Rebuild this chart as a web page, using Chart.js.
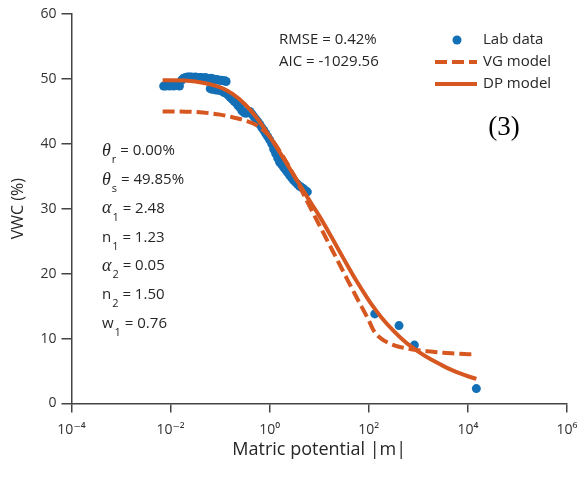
<!DOCTYPE html>
<html>
<head>
<meta charset="utf-8">
<script src="https://cdn.jsdelivr.net/npm/chart.js@4.4.1/dist/chart.umd.min.js"></script>
<style>
  html, body { margin: 0; padding: 0; background: #ffffff; }
  #wrap { width: 587px; height: 477px; }
</style>
</head>
<body>
<div id="wrap"><canvas id="c" width="587" height="477"></canvas></div>
<script>
// Laboratory retention data: matric potential |m| (m) and volumetric water content (%)
const labPotential = [
  0.00724, 0.00794, 0.00871, 0.00955, 0.0105, 0.0115, 0.0126, 0.0138, 0.0151,
  0.0166, 0.0182, 0.0200, 0.0219, 0.0240, 0.0263, 0.0288, 0.0316, 0.0347, 0.0380, 0.0417, 0.0457,
  0.0501, 0.0550, 0.0603, 0.0661, 0.0724, 0.0794, 0.0871, 0.0955, 0.105, 0.115, 0.126, 0.132,
  0.0631, 0.0692, 0.0759, 0.0832, 0.0912, 0.100, 0.110, 0.120, 0.132, 0.145, 0.158, 0.174,
  0.191, 0.209, 0.229, 0.251,
  0.275, 0.302, 0.331, 0.363,
  0.398, 0.437, 0.479, 0.525, 0.575, 0.631, 0.692, 0.759, 0.832, 0.912, 1.00, 1.10, 1.20,
  1.32, 1.45, 1.58, 1.74, 1.91, 2.09, 2.29, 2.51, 2.75, 3.02, 3.31, 3.63, 3.98, 4.37, 4.79,
  5.25, 5.75,
  132, 407, 832, 14800
];
const labVWC = [
  48.9, 48.9, 49.0, 48.9, 49.0, 48.9, 49.0, 49.0, 48.9,
  49.8, 50.1, 50.2, 50.3, 50.3, 50.3, 50.2, 50.3, 50.2, 50.2, 50.2, 50.1,
  50.2, 50.1, 50.0, 50.1, 50.0, 49.9, 49.9, 49.8, 49.8, 49.7, 49.7, 49.6,
  48.5, 48.4, 48.4, 48.3, 48.3, 48.2, 48.1, 47.9, 47.8, 47.5, 47.2, 46.9,
  46.6, 46.3, 45.9, 45.6,
  45.1, 44.8, 44.7, 44.9,
  45.0, 44.6, 44.2, 43.8, 43.4, 43.0, 42.5, 42.1, 41.6, 41.1, 40.6, 40.0, 39.2,
  38.5, 37.8, 37.2, 36.8, 36.4, 36.0, 35.6, 35.2, 34.8, 34.4, 34.1, 33.8, 33.5, 33.3, 33.1,
  32.8, 32.6,
  13.8, 12.0, 9.0, 2.3
];

// Fitted retention curves, sampled on a common potential grid
const modelPotential = [
  0.0069, 0.01, 0.0316, 0.1, 0.178, 0.316, 0.562, 1, 1.78, 3.16, 5.62, 10, 17.8,
  31.6, 56.2, 100, 126, 178, 316, 562, 1000, 1778, 3162, 5623, 10000, 14800
];
const vgVWC = [
  45.0, 45.0, 44.9, 44.5, 44.1, 43.6, 42.8, 41.1, 38.3, 35.0, 31.2, 27.5, 23.8,
  20.1, 16.4, 12.8, 11.2, 10.0, 9.0, 8.5, 8.2, 8.0, 7.8, 7.7, 7.6, 7.6
];
const dpVWC = [
  49.8, 49.8, 49.6, 48.7, 47.7, 46.1, 43.9, 41.1, 38.1, 35.0, 31.9, 28.9, 25.6,
  22.2, 18.9, 15.9, 14.8, 13.3, 11.2, 9.4, 8.0, 6.8, 5.8, 4.9, 4.2, 3.8
];

// Axis ticks
const xTickValues = [1e-4, 1e-2, 1e0, 1e2, 1e4, 1e6];
const xTickLabels = ['10\u207B\u2074', '10\u207B\u00B2', '10\u2070', '10\u00B2', '10\u2074', '10\u2076'];

// Text blocks
const seriesNames = ['Lab data', 'VG model', 'DP model'];
const fitStats = ['RMSE = 0.42%', 'AIC = -1029.56'];
const paramSymbols = ['\u03B8', '\u03B8', '\u03B1', 'n', '\u03B1', 'n', 'w'];
const paramSubs = ['r', 's', '1', '1', '2', '2', '1'];
const paramValues = ['0.00%', '49.85%', '2.48', '1.23', '0.05', '1.50', '0.76'];
const panelLabel = '(3)';

const BLUE = '#1470b6';
const ORANGE = '#d65720';
const AXIS = '#444444';
const TEXT = '#262626';
const SANS = '"Open Sans", "DejaVu Sans", sans-serif';

const toPoints = (xs, ys) => xs.map((x, i) => ({ x: x, y: ys[i] }));

const annotate = {
  id: 'annotate',
  afterDraw(chart) {
    const ctx = chart.ctx;
    ctx.save();
    ctx.textBaseline = 'middle';
    ctx.textAlign = 'left';
    ctx.fillStyle = TEXT;

    // goodness-of-fit statistics
    ctx.font = '15px ' + SANS;
    fitStats.forEach((t, i) => ctx.fillText(t, 279, 40 + i * 22));

    // fitted parameters with subscripts
    paramSymbols.forEach((s, i) => {
      const y = 151 + i * 28.8;
      let x = 102;
      const greek = s === '\u03B8' || s === '\u03B1';
      ctx.font = greek ? 'italic 18px "Liberation Serif", serif' : '15px ' + SANS;
      ctx.fillText(s, x, y);
      x += ctx.measureText(s).width + 1;
      ctx.font = '11px ' + SANS;
      ctx.fillText(paramSubs[i], x, y + 9);
      x += ctx.measureText(paramSubs[i]).width;
      ctx.font = '15px ' + SANS;
      ctx.fillText(' = ' + paramValues[i], x, y);
    });

    // legend
    const ds = chart.data.datasets;
    const lx0 = 435, lx1 = 477, tx = 483;
    const rows = [40, 62, 84];
    ctx.font = '15px ' + SANS;
    ctx.fillStyle = ds[0].backgroundColor;
    ctx.beginPath();
    ctx.arc(457, rows[0], 4.5, 0, Math.PI * 2);
    ctx.fill();
    ctx.strokeStyle = ds[1].borderColor;
    ctx.lineWidth = ds[1].borderWidth;
    ctx.setLineDash(ds[1].borderDash);
    ctx.beginPath();
    ctx.moveTo(lx0, rows[1]); ctx.lineTo(lx1, rows[1]);
    ctx.stroke();
    ctx.setLineDash([]);
    ctx.strokeStyle = ds[2].borderColor;
    ctx.lineWidth = ds[2].borderWidth;
    ctx.beginPath();
    ctx.moveTo(lx0, rows[2]); ctx.lineTo(lx1, rows[2]);
    ctx.stroke();
    ctx.fillStyle = TEXT;
    seriesNames.forEach((n, i) => ctx.fillText(n, tx, rows[i]));

    // panel label
    ctx.fillStyle = '#000000';
    ctx.textAlign = 'center';
    ctx.font = '27px "Liberation Serif", serif';
    ctx.fillText(panelLabel, 504, 128);
    ctx.restore();
  }
};

new Chart(document.getElementById('c'), {
  type: 'scatter',
  data: {
    datasets: [
      {
        label: seriesNames[0],
        data: toPoints(labPotential, labVWC),
        backgroundColor: BLUE,
        borderColor: BLUE,
        borderWidth: 0,
        pointRadius: 4.5,
        showLine: false,
        order: 3
      },
      {
        label: seriesNames[1],
        data: toPoints(modelPotential, vgVWC),
        showLine: true,
        borderColor: ORANGE,
        backgroundColor: ORANGE,
        borderWidth: 4,
        borderDash: [12, 5],
        pointRadius: 0,
        cubicInterpolationMode: 'monotone',
        tension: 0.4,
        order: 2
      },
      {
        label: seriesNames[2],
        data: toPoints(modelPotential, dpVWC),
        showLine: true,
        borderColor: ORANGE,
        backgroundColor: ORANGE,
        borderWidth: 4,
        pointRadius: 0,
        cubicInterpolationMode: 'monotone',
        tension: 0.4,
        order: 1
      }
    ]
  },
  options: {
    responsive: false,
    animation: false,
    devicePixelRatio: 1,
    layout: { padding: { top: 14, right: 20, left: 0, bottom: 0 } },
    plugins: {
      legend: { display: false },
      tooltip: { enabled: false }
    },
    scales: {
      x: {
        type: 'logarithmic',
        min: 1e-4,
        max: 1e6,
        afterBuildTicks: (s) => { s.ticks = xTickValues.map((v) => ({ value: v })); },
        afterFit: (s) => { s.height = 73.5; },
        grid: { drawOnChartArea: false, drawTicks: true, tickLength: 9, color: AXIS, lineWidth: 1.5 },
        border: { display: true, color: AXIS, width: 1.5 },
        ticks: {
          autoSkip: false,
          maxRotation: 0,
          padding: 9,
          color: '#333333',
          font: { family: SANS, size: 14 },
          callback: (v, i) => xTickLabels[i]
        },
        title: {
          display: true,
          text: 'Matric potential |m|',
          color: TEXT,
          font: { family: SANS, size: 18 },
          padding: { top: 0, bottom: 16 }
        }
      },
      y: {
        min: 0,
        max: 60,
        afterFit: (s) => { s.width = 71.5; },
        grid: { drawOnChartArea: false, drawTicks: true, tickLength: 10, color: AXIS, lineWidth: 1.5 },
        border: { display: true, color: AXIS, width: 1.5 },
        ticks: {
          stepSize: 10,
          padding: 5,
          color: '#333333',
          font: { family: SANS, size: 14 }
        },
        title: {
          display: true,
          text: 'VWC (%)',
          color: TEXT,
          font: { family: SANS, size: 16 },
          padding: { top: 9, bottom: 0 }
        }
      }
    }
  },
  plugins: [annotate]
});
</script>
</body>
</html>
